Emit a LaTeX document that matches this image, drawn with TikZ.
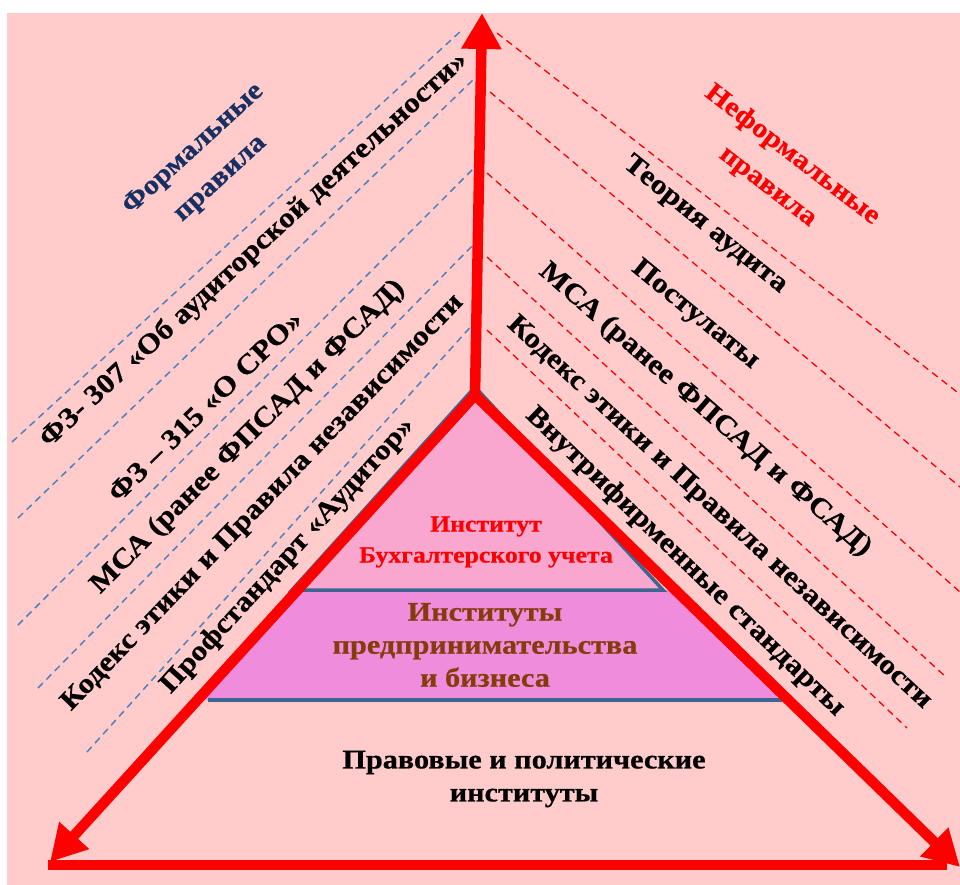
\documentclass[tikz,border=0pt]{standalone}
\usepackage{fontspec}
\setmainfont{Liberation Serif}[FakeStretch=1.12, BoldFeatures={FakeBold=0.6}]
\usetikzlibrary{arrows.meta}
\definecolor{bgpink}{HTML}{FFCBCB}
\definecolor{bandone}{HTML}{F9A7CF}
\definecolor{bandtwo}{HTML}{F08CDC}
\definecolor{edgeblue}{HTML}{3E6491}
\definecolor{dashblue}{HTML}{4F81BD}
\definecolor{navytxt}{HTML}{172F63}
\definecolor{browntxt}{HTML}{843C0C}
\begin{document}
\begin{tikzpicture}[x=1pt,y=-1pt,
  lbl/.style={font=\bfseries\fontsize{28}{34}\selectfont, inner sep=0pt},
  bdash/.style={dashblue, line width=1.5pt, dash pattern=on 7pt off 5pt},
  rdash/.style={red, line width=1.3pt, dash pattern=on 7pt off 5pt},
  redaxis/.style={red, line width=10.5pt},
  redarrow/.style={redaxis, -{Triangle[length=36pt,width=38pt]}},
  edge/.style={edgeblue, line width=3.5pt}
]
\useasboundingbox (0,0) rectangle (960,885);
\fill[white] (0,0) rectangle (960,885);
\fill[bgpink] (7,13) rectangle (960,885);

% pyramid bands
\fill[bandtwo] (292,590) -- (672,590) -- (786,700) -- (200,700) -- cycle;
\fill[bandone] (475,387) -- (292,590) -- (663,590) -- cycle;
\draw[edge, line join=miter] (292,590) -- (475,387) -- (663,590) -- cycle;
\draw[edge] (208,700) -- (782,700);

% dashed guide lines
\draw[bdash] (12,442) -- (462,30);
\draw[bdash] (18,518) -- (475,78);
\draw[bdash] (18,625) -- (475,167);
\draw[bdash] (38,688) -- (475,243);
\draw[bdash] (87,752) -- (475,322);
\draw[rdash] (497,33) -- (957,392);
\draw[rdash] (490,92) -- (960,487);
\draw[rdash] (487,173) -- (960,592);
\draw[rdash] (487,257) -- (947,678);
\draw[rdash] (487,330) -- (907,728);

% pyramid texts
\node[font=\bfseries\fontsize{23}{31}\selectfont, text=red, align=center, inner sep=0pt] (acc) at (486,542) {Институт\\Бухгалтерского учета};
\node[font=\bfseries\fontsize{27}{33}\selectfont, text=browntxt, align=center, inner sep=0pt] (biz) at (485,645) {Институты\\предпринимательства\\и бизнеса};
\node[font=\bfseries\fontsize{27}{33}\selectfont, align=center, inner sep=0pt] (law) at (524,779) {Правовые и политические\\институты};

% left (formal) labels
\node[lbl, rotate=42.5, text=navytxt, align=center, font=\bfseries\fontsize{27}{40}\selectfont] (formal) at (207,164) {Формальные\\правила};
\node[lbl, rotate=42.6] (fzA) at (254,250) {ФЗ- 307 «Об аудиторской деятельности»};
\node[lbl, rotate=44.4] (fzB) at (205,406) {ФЗ – 315 «О СРО»};
\node[lbl, rotate=45] (msaL) at (248,437) {МСА (ранее ФПСАД и ФСАД)};
\node[lbl, rotate=46.1] (codeL) at (263,503) {Кодекс этики и Правила независимости};
\node[lbl, rotate=47.6] (prof) at (288,556) {Профстандарт «Аудитор»};

% right (informal) labels
\node[lbl, rotate=-37.5, text=red, align=center, font=\bfseries\fontsize{27}{40}\selectfont] (informal) at (780,171) {Неформальные\\правила};
\node[lbl, rotate=-38.9] (theory) at (705,225) {Теория аудита};
\node[lbl, rotate=-39.3] (post) at (695,315) {Постулаты};
\node[lbl, rotate=-41.1] (msaR) at (705,410) {МСА (ранее ФПСАД и ФСАД)};
\node[lbl, rotate=-42.6] (codeR) at (719,513) {Кодекс этики и Правила независимости};
\node[lbl, rotate=-44] (intern) at (685,562) {Внутрифирменные стандарты};

% red axes
\coordinate (apex) at (475,395);
\coordinate (topTip) at (482,13);
\coordinate (leftTip) at (50,862);
\coordinate (rightTip) at (960,867);
\coordinate (baseL) at (48,865);
\coordinate (baseR) at (947,865);
\draw[redarrow] (apex) -- (topTip);
\draw[redarrow] (apex) -- (leftTip);
\draw[redarrow] (apex) -- (rightTip);
\draw[redaxis] (baseL) -- (baseR);
\end{tikzpicture}
\end{document}
